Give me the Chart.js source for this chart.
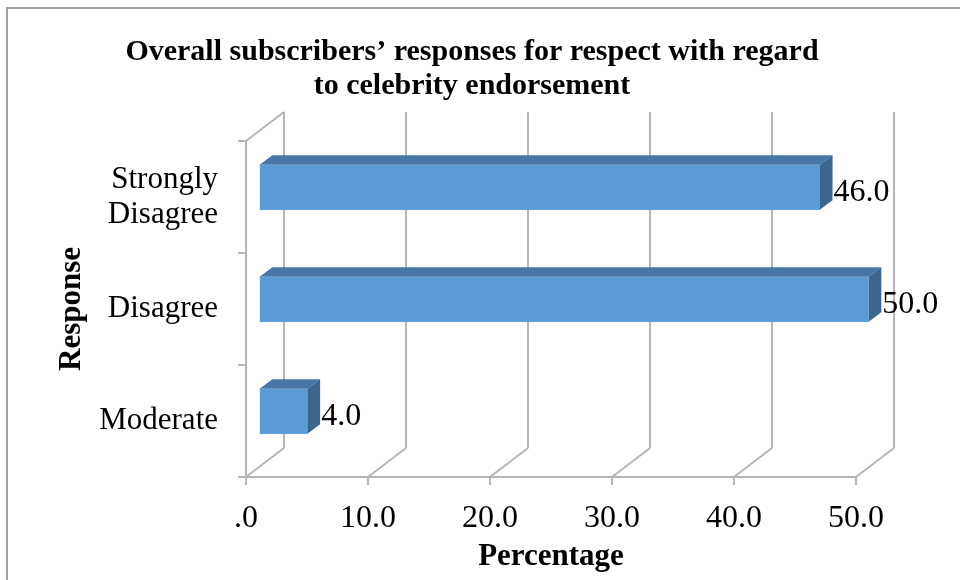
<!DOCTYPE html>
<html>
<head>
<meta charset="utf-8">
<script src="https://cdn.jsdelivr.net/npm/chart.js@4.4.1/dist/chart.umd.min.js"></script>
<style>
  html, body { margin: 0; padding: 0; background: #fff; }
  #wrap { width: 960px; height: 580px; position: relative; }
</style>
</head>
<body>
<div id="wrap"><canvas id="chart" width="960" height="580"></canvas></div>
<script>
const categories = [['Strongly', 'Disagree'], 'Disagree', 'Moderate'];
const percentages = [46.0, 50.0, 4.0];
const xTicks = [0, 10, 20, 30, 40, 50];
const xTickLabels = ['.0', '10.0', '20.0', '30.0', '40.0', '50.0'];
const titleLines = ['Overall subscribers’ responses for respect with regard', 'to celebrity endorsement'];

const SERIF = '"Liberation Serif", "Times New Roman", serif';
const GRID = '#b5b5b5';
const DEPTH_X = 38, DEPTH_Y = -29;   // floor depth of the 3D box
const BAR_DX = DEPTH_X / 3, BAR_DY = DEPTH_Y / 3;

// frame + back wall + floor diagonals, then 3D faces on the bars
const box3d = {
    id: 'box3d',
    beforeDraw(chart) {
        const ctx = chart.ctx;
        ctx.save();
        ctx.strokeStyle = '#a0a0a0';
        ctx.lineWidth = 2;
        ctx.strokeRect(7, 8, 1000, 1000);
        ctx.restore();
    },
    beforeDatasetsDraw(chart) {
        const { ctx, chartArea: a, scales } = chart;
        const xs = scales.x;
        ctx.save();
        ctx.strokeStyle = GRID;
        ctx.lineWidth = 2;
        ctx.beginPath();
        xTicks.forEach(v => {
            const px = xs.getPixelForValue(v);
            ctx.moveTo(px + DEPTH_X, a.top + DEPTH_Y);
            ctx.lineTo(px + DEPTH_X, a.bottom + DEPTH_Y);
            ctx.moveTo(px, a.bottom);
            ctx.lineTo(px + DEPTH_X, a.bottom + DEPTH_Y);
        });
        ctx.moveTo(a.left, a.top);
        ctx.lineTo(a.left + DEPTH_X, a.top + DEPTH_Y);
        ctx.stroke();
        ctx.restore();

        ctx.save();
        ctx.translate(BAR_DX, BAR_DY);
    },
    afterDatasetsDraw(chart) {
        const ctx = chart.ctx;
        const meta = chart.getDatasetMeta(0);
        meta.data.forEach((bar, i) => {
            const p = bar.getProps(['x', 'y', 'base', 'height'], true);
            const top = p.y - p.height / 2, bot = p.y + p.height / 2;
            ctx.fillStyle = '#4677a6';
            ctx.beginPath();
            ctx.moveTo(p.base, top);
            ctx.lineTo(p.base + BAR_DX, top + BAR_DY);
            ctx.lineTo(p.x + BAR_DX, top + BAR_DY);
            ctx.lineTo(p.x, top);
            ctx.closePath();
            ctx.fill();
            ctx.fillStyle = '#3b6690';
            ctx.beginPath();
            ctx.moveTo(p.x, top);
            ctx.lineTo(p.x + BAR_DX, top + BAR_DY);
            ctx.lineTo(p.x + BAR_DX, bot + BAR_DY);
            ctx.lineTo(p.x, bot);
            ctx.closePath();
            ctx.fill();

            ctx.fillStyle = '#000';
            ctx.font = '32px ' + SERIF;
            ctx.textAlign = 'left';
            ctx.textBaseline = 'middle';
            ctx.fillText(percentages[i].toFixed(1), p.x + BAR_DX + 1, p.y + 5);
        });
        ctx.restore();
    }
};

new Chart(document.getElementById('chart'), {
    type: 'bar',
    data: {
        labels: categories,
        datasets: [{
            data: percentages,
            backgroundColor: '#5b9bd5',
            borderColor: '#6aa6dc',
            borderWidth: 1,
            barThickness: 45
        }]
    },
    options: {
        indexAxis: 'y',
        responsive: false,
        animation: false,
        layout: { padding: { left: 0, right: 16, top: 0, bottom: 0 } },
        plugins: {
            legend: { display: false },
            tooltip: { enabled: false },
            title: {
                display: true,
                text: titleLines,
                color: '#000',
                font: { family: SERIF, size: 30, weight: 'bold', lineHeight: 1.133 },
                padding: { top: 35, bottom: 38 }
            }
        },
        scales: {
            x: {
                min: 0,
                max: 50,
                afterBuildTicks: s => { s.ticks = xTicks.map(v => ({ value: v })); },
                afterFit: s => { s.height = 103; },
                grid: { drawOnChartArea: false, drawTicks: true, tickLength: 8, color: GRID, lineWidth: 2 },
                border: { display: true, color: GRID, width: 2 },
                ticks: {
                    color: '#000',
                    padding: 14,
                    maxRotation: 0,
                    font: { family: SERIF, size: 32 },
                    callback: (v, i) => xTickLabels[i]
                },
                title: {
                    display: true,
                    text: 'Percentage',
                    color: '#000',
                    font: { family: SERIF, size: 31, weight: 'bold' },
                    padding: { top: 3 }
                }
            },
            y: {
                afterFit: s => { s.width = 246; },
                grid: { drawOnChartArea: false, drawTicks: true, tickLength: 8, color: GRID, lineWidth: 2 },
                border: { display: true, color: GRID, width: 2 },
                ticks: {
                    color: '#000',
                    padding: 20,
                    font: { family: SERIF, size: 31, lineHeight: 1.13 }
                },
                title: {
                    display: true,
                    text: 'Response',
                    color: '#000',
                    font: { family: SERIF, size: 31, weight: 'bold' },
                    padding: { top: 53 }
                }
            },
            yRight: {
                type: 'linear',
                position: 'right',
                display: true,
                afterFit: s => { s.width = 88; },
                grid: { display: false },
                border: { display: false },
                ticks: { display: false }
            }
        }
    },
    plugins: [box3d]
});
</script>
</body>
</html>
